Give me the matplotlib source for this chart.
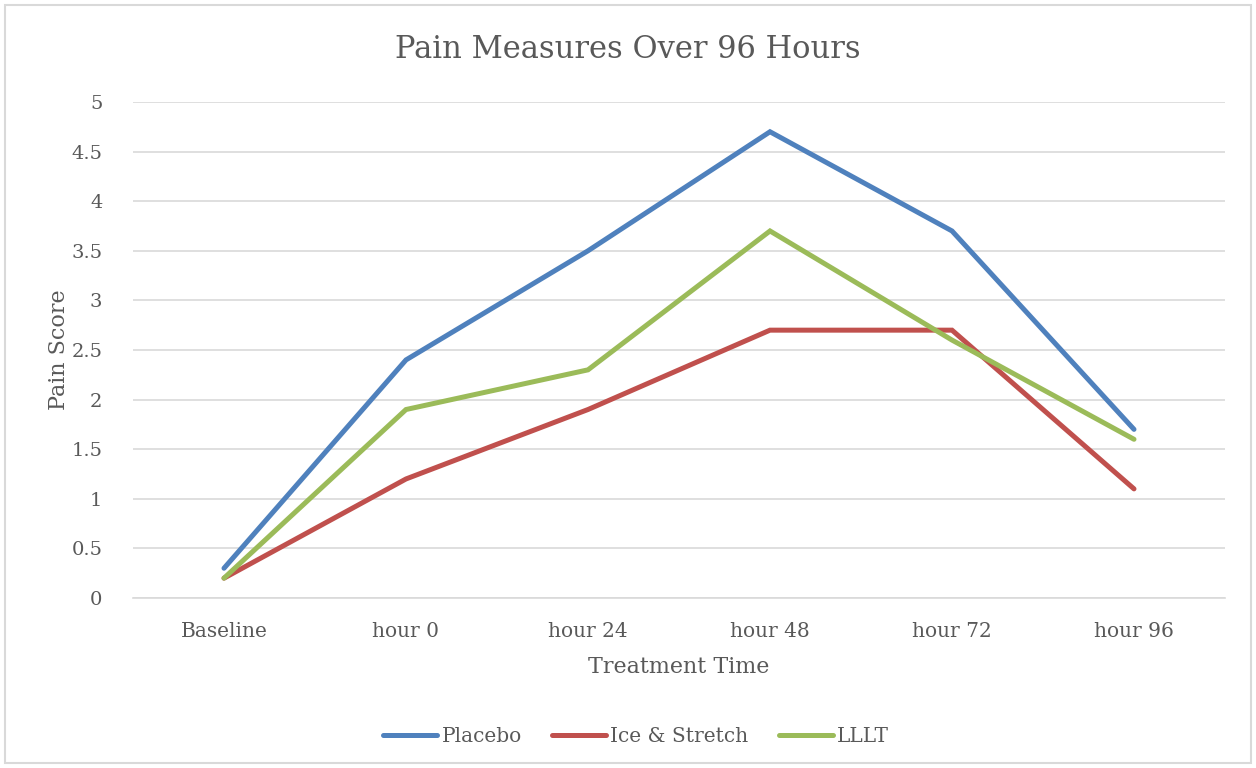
import matplotlib
matplotlib.use("Agg")
import matplotlib.pyplot as plt
from matplotlib.patches import Rectangle

categories = ["Baseline", "hour 0", "hour 24", "hour 48", "hour 72", "hour 96"]
placebo = [0.3, 2.4, 3.5, 4.7, 3.7, 1.7]
ice_stretch = [0.2, 1.2, 1.9, 2.7, 2.7, 1.1]
lllt = [0.2, 1.9, 2.3, 3.7, 2.6, 1.6]
series_names = ["Placebo", "Ice & Stretch", "LLLT"]
colors = ["#4F81BD", "#C0504D", "#9BBB59"]
yticks = [0, 0.5, 1, 1.5, 2, 2.5, 3, 3.5, 4, 4.5, 5]
ytick_labels = ["0", "0.5", "1", "1.5", "2", "2.5", "3", "3.5", "4", "4.5", "5"]

plt.rcParams['font.family'] = ['DejaVu Serif']
txt = "#595959"

fig = plt.figure(figsize=(12.56, 7.68), dpi=100)
fig.patches.append(Rectangle((5/1256, 5/768), 1246/1256, 758/768, transform=fig.transFigure,
                             fill=False, edgecolor="#D9D9D9", linewidth=1.5))
ax = fig.add_axes([133/1256, 1-598/768, (1225-133)/1256, (598-102)/768])

x = list(range(len(categories)))
for vals, name, c in zip([placebo, ice_stretch, lllt], series_names, colors):
    ax.plot(x, vals, color=c, linewidth=3.6, solid_capstyle="round",
            solid_joinstyle="miter", label=name, zorder=3)

ax.set_xlim(-0.5, len(categories) - 0.5)
ax.set_ylim(0, 5)
ax.set_yticks(yticks)
ax.set_yticklabels(ytick_labels)
ax.set_xticks(x)
ax.set_xticklabels(categories)
ax.grid(axis="y", color="#D9D9D9", linewidth=1.2, zorder=0)
for s in ["top", "right", "left"]:
    ax.spines[s].set_visible(False)
ax.spines["bottom"].set_color("#D9D9D9")
ax.spines["bottom"].set_linewidth(1.2)
ax.tick_params(axis="both", length=0, labelsize=14, labelcolor=txt)
ax.tick_params(axis="x", labelsize=14.5, pad=17)
ax.tick_params(axis="y", pad=22)
ax.set_xlabel("Treatment Time", fontsize=16, color=txt, labelpad=11)
ax.set_ylabel("Pain Score", fontsize=16, color=txt, labelpad=1)
fig.text(0.5, 1-50/768, "Pain Measures Over 96 Hours", ha="center", va="center",
         fontsize=22, color=txt)
leg = fig.legend(loc="center", bbox_to_anchor=(636/1256, 1-737/768), ncol=3,
                 frameon=False, fontsize=14.5, handlelength=2.7, handletextpad=0.2,
                 columnspacing=1.5)
for t in leg.get_texts():
    t.set_color(txt)

fig.savefig("out.png", dpi=100)
